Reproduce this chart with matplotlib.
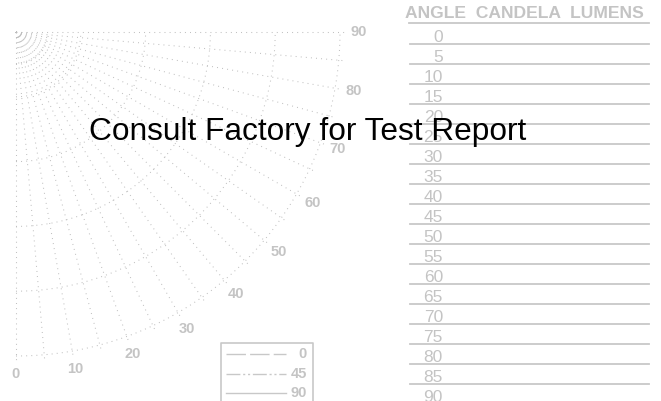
import matplotlib
matplotlib.use('Agg')
import matplotlib.pyplot as plt
import numpy as np

plt.rcParams['font.family'] = ['Liberation Sans', 'DejaVu Sans']

# polar grid (angles in degrees from nadir, rings as fraction of full scale)
grid_angles = [0, 5, 10, 15, 20, 25, 30, 35, 40, 45, 50, 55, 60, 65, 70, 75, 80, 85, 90]
label_angles = [0, 10, 20, 30, 40, 50, 60, 70, 80, 90]
ring_fracs = [0.1, 0.2, 0.4, 0.6, 0.8, 1.0]

# table on the right
table_header = "ANGLE  CANDELA  LUMENS"
table_angles = [0, 5, 10, 15, 20, 25, 30, 35, 40, 45, 50, 55, 60, 65, 70, 75, 80, 85, 90]

# legend (planes)
legend_planes = ['0', '45', '90']
legend_styles = [(0, (14, 3)), (0, (10, 2, 1.5, 2, 1.5, 2)), '-']

note = "Consult Factory for Test Report"

GRID_C = '#bcbcbc'
LINE_C = '#c8c8c8'
TEXT_C = '#c4c4c4'

W, H = 661, 401
fig = plt.figure(figsize=(W / 100, H / 100), dpi=100)
ax = fig.add_axes([0, 0, 1, 1])
ax.set_xlim(0, W)
ax.set_ylim(H, 0)
ax.axis('off')

cx, cy, R = 16, 32, 324   # pole at upper left, pixel units

def pol(r, a):
    t = np.radians(a)
    return cx + r * np.sin(t), cy + r * np.cos(t)

dot = (0, (0.9, 4.0))
for a in grid_angles:
    x, y = pol(np.array([0, R * 1.02]), a)
    ax.plot(x, y, color=GRID_C, lw=0.75, ls=dot)

th = np.linspace(0, 90, 200)
for f in ring_fracs:
    x, y = pol(f * R, th)
    ax.plot(x, y, color=GRID_C, lw=0.75, ls=dot)

for a in label_angles:
    x, y = pol(R * 1.057, a)
    ax.text(x, y, str(a), color=TEXT_C, fontsize=10.5, fontweight='bold',
            ha='center', va='center')

# legend box
lx0, lx1, ly0 = 220.5, 312.5, 343
ax.plot([lx0, lx0, lx1, lx1], [H + 5, ly0, ly0, H + 5], color=LINE_C, lw=1.2)
for i, (lab, st) in enumerate(zip(legend_planes, legend_styles)):
    y = 354 + 19.5 * i
    ax.plot([226, 286], [y, y], color=LINE_C, lw=1.0, ls=st)
    ax.text(307, y, lab, color=TEXT_C, fontsize=10.5, fontweight='bold',
            ha='right', va='center')

# table
ax.text(405, 18, table_header, color=TEXT_C, fontsize=12.6, fontweight='bold',
        ha='left', va='baseline')
ax.plot([409, 649], [23, 23], color=LINE_C, lw=1.3)
for i, a in enumerate(table_angles):
    yb = 42 + 20 * i
    ax.text(443, yb, str(a), color=TEXT_C, fontsize=12.5, ha='right', va='baseline')
    if i < len(table_angles) - 1:
        ax.plot([410, 649], [yb + 1.5, yb + 1.5], color=LINE_C, lw=1.3)

ax.text(308, 140, note, color='black', fontsize=22.8, ha='center', va='baseline')

fig.savefig('out.png', dpi=100)
